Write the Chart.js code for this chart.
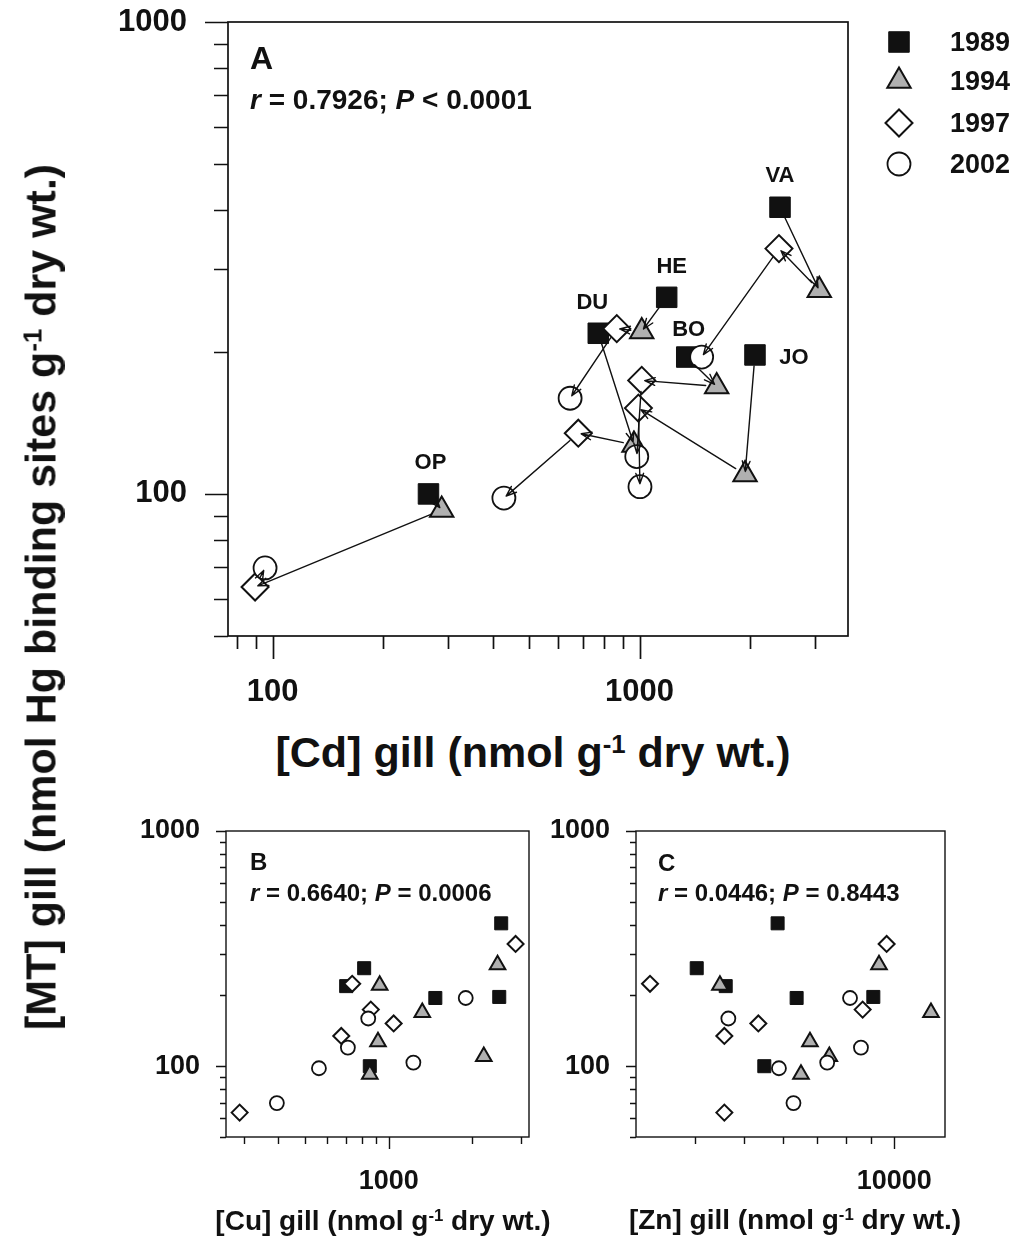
<!DOCTYPE html>
<html>
<head>
<meta charset="utf-8">
<script src="https://cdn.jsdelivr.net/npm/chart.js@4.4.1/dist/chart.umd.min.js"></script>
<style>
  html, body { margin: 0; padding: 0; background: #fff; }
  #page {
    position: relative; width: 1019px; height: 1243px; overflow: hidden;
    font-family: "Liberation Sans", Arial, sans-serif; font-weight: bold; color: #111;
  }
  canvas { position: absolute; }
  .t { position: absolute; white-space: nowrap; line-height: 1; }
  .c { transform: translate(-50%, -50%); }
  .l { transform: translate(0, -50%); }
  sup { font-size: 0.6em; position: relative; top: -0.55em; vertical-align: baseline; line-height: 0; }
</style>
</head>
<body>
<div id="page">
  <canvas id="chartA" width="1019" height="720" style="left:0;top:0;width:1019px;height:720px"></canvas>
  <canvas id="chartB" width="450" height="410" style="left:90px;top:800px;width:450px;height:410px"></canvas>
  <canvas id="chartC" width="470" height="410" style="left:540px;top:800px;width:470px;height:410px"></canvas>

  <div class="t l" style="left:250px;top:58px;font-size:32px">A</div>
  <div class="t l" style="left:250px;top:100px;font-size:28px"><i>r</i> = 0.7926; <i>P</i> &lt; 0.0001</div>

  <div class="t l" style="left:950px;top:42px;font-size:27px">1989</div>
  <div class="t l" style="left:950px;top:81px;font-size:27px">1994</div>
  <div class="t l" style="left:950px;top:123px;font-size:27px">1997</div>
  <div class="t l" style="left:950px;top:164px;font-size:27px">2002</div>

  <div class="t" style="left:41px;top:597px;font-size:43px;transform:translate(-50%,-50%) rotate(-90deg)">[MT] gill (nmol Hg binding sites g<sup>-1</sup> dry wt.)</div>
  <div class="t c" style="left:533px;top:752px;font-size:43px">[Cd] gill (nmol g<sup>-1</sup> dry wt.)</div>

  <div class="t l" style="left:250px;top:862px;font-size:24px">B</div>
  <div class="t l" style="left:250px;top:893px;font-size:24px"><i>r</i> = 0.6640; <i>P</i> = 0.0006</div>
  <div class="t l" style="left:658px;top:863px;font-size:24px">C</div>
  <div class="t l" style="left:658px;top:893px;font-size:24px"><i>r</i> = 0.0446; <i>P</i> = 0.8443</div>

  <div class="t c" style="left:383px;top:1221px;font-size:28px">[Cu] gill (nmol g<sup>-1</sup> dry wt.)</div>
  <div class="t c" style="left:795px;top:1220px;font-size:28px">[Zn] gill (nmol g<sup>-1</sup> dry wt.)</div>
</div>
<script>
// sites and sampling years
const sites = ["OP", "DU", "HE", "BO", "JO", "VA"];
const years = ["1989", "1994", "1997", "2002"];

// [MT] gill, nmol Hg binding sites / g dry wt (same for all panels)
const mt1989 = [100, 219, 261, 195, 197, 405];
const mt1994 = [92.5, 127, 221, 169, 110, 270];
const mt1997 = [63.5, 134.5, 224, 174, 152, 331];
const mt2002 = [69.7, 98, 159.5, 120, 103.6, 195];

// [Cd] gill (panel A)
const cd1989 = [266, 772, 1186, 1345, 2064, 2415];
const cd1994 = [289, 966, 1014, 1623, 1939, 3090];
const cd1997 = [89.6, 681, 867, 1014, 993, 2399];
const cd2002 = [95.4, 427, 647, 983, 1003, 1477];

// [Cu] gill (panel B)
const cu1989 = [854, 702, 815, 1471, 2500, 2541];
const cu1994 = [854, 914, 927, 1320, 2199, 2465];
const cu1997 = [290, 674, 738, 861, 1041, 2863];
const cu2002 = [395, 560, 843, 712, 1226, 1893];

// [Zn] gill (panel C)
const zn1989 = [5495, 4600, 4025, 6377, 9079, 5842];
const zn1994 = [6506, 6781, 4479, 11840, 7413, 9319];
const zn1997 = [4571, 4571, 3246, 8643, 5346, 9653];
const zn2002 = [6285, 5878, 4656, 8576, 7341, 8155];

// labelled ticks
const ticksAx = [100, 1000];
const ticksBx = [1000];
const ticksCx = [10000];
const ticksY = [100, 1000];

const mtByYear = [mt1989, mt1994, mt1997, mt2002];

// marker look per year
const yearStyle = {
  "1989": { shape: "rect", fill: "#111", line: "#111", width: 1 },
  "1994": { shape: "triangle", fill: "#b0b0b0", line: "#111", width: 2 },
  "1997": { shape: "rectRot", fill: "#fff", line: "#111", width: 2 },
  "2002": { shape: "circle", fill: "#fff", line: "#111", width: 1.8 },
};
const bigRadius = { "1989": 14.5, "1994": 13.5, "1997": 13.5, "2002": 11.5 };
const smallRadius = { "1989": 9.2, "1994": 9, "1997": 8, "2002": 7 };

Chart.defaults.font.family = '"Liberation Sans", Arial, sans-serif';
Chart.defaults.font.weight = "bold";
Chart.defaults.color = "#111";

function mantissa(v) {
  const e = Math.floor(Math.log10(v) + 1e-9);
  const m = v / Math.pow(10, e);
  const r = Math.round(m);
  return Math.abs(m - r) < 1e-6 ? r : null;
}

function tickLabel(list) {
  return (v) => {
    const r = Math.round(v);
    return list.includes(r) && Math.abs(v - r) < 1e-6 ? String(r) : "";
  };
}

function marker(ctx, shape, x, y, r) {
  ctx.beginPath();
  if (shape === "rect") {
    const s = r * Math.SQRT1_2;
    ctx.rect(x - s, y - s, 2 * s, 2 * s);
  } else if (shape === "rectRot") {
    ctx.moveTo(x - r, y); ctx.lineTo(x, y - r); ctx.lineTo(x + r, y); ctx.lineTo(x, y + r);
    ctx.closePath();
  } else if (shape === "triangle") {
    ctx.moveTo(x, y - r);
    ctx.lineTo(x + 0.866 * r, y + 0.5 * r);
    ctx.lineTo(x - 0.866 * r, y + 0.5 * r);
    ctx.closePath();
  } else {
    ctx.arc(x, y, r, 0, Math.PI * 2);
  }
}

// box + outside tick marks, and optional legend symbols
const frameTicks = {
  id: "frameTicks",
  afterDraw(chart, args, o) {
    const { ctx, chartArea: ca } = chart;
    const xs = chart.scales.x;
    const ys = chart.scales.y;
    ctx.save();
    ctx.strokeStyle = "#111";
    ctx.lineWidth = o.lineWidth;
    ctx.strokeRect(ca.left, ca.top, ca.right - ca.left, ca.bottom - ca.top);
    ctx.beginPath();
    xs.ticks.forEach((t) => {
      const m = mantissa(t.value);
      if (m === null) return;
      const px = Math.round(xs.getPixelForValue(t.value)) + 0.5;
      ctx.moveTo(px, ca.bottom);
      ctx.lineTo(px, ca.bottom + (m === 1 ? o.xMajor : o.xMinor));
    });
    ys.ticks.forEach((t) => {
      const m = mantissa(t.value);
      if (m === null) return;
      const py = Math.round(ys.getPixelForValue(t.value)) + 0.5;
      ctx.moveTo(ca.left, py);
      ctx.lineTo(ca.left - (m === 1 ? o.yMajor : o.yMinor), py);
    });
    ctx.stroke();

    if (o.legend) {
      years.forEach((yr, k) => {
        const st = yearStyle[yr];
        marker(ctx, st.shape, o.legend.x, o.legend.rows[k], bigRadius[yr]);
        ctx.fillStyle = st.fill;
        ctx.fill();
        ctx.lineWidth = st.width;
        ctx.strokeStyle = st.line;
        ctx.stroke();
      });
    }
    ctx.restore();
  },
};

// arrows joining each site's years in panel A
const siteArrows = {
  id: "siteArrows",
  afterDatasetsDraw(chart, args, o) {
    if (!o.enabled) return;
    const ctx = chart.ctx;
    ctx.save();
    ctx.strokeStyle = "#111";
    ctx.lineWidth = 1.4;
    ctx.lineCap = "round";
    sites.forEach((s, j) => {
      for (let k = 0; k < years.length - 1; k++) {
        const a = chart.getDatasetMeta(k).data[j];
        const b = chart.getDatasetMeta(k + 1).data[j];
        const dx = b.x - a.x, dy = b.y - a.y;
        const len = Math.hypot(dx, dy);
        if (len < 1) continue;
        const ux = dx / len, uy = dy / len;
        const sx = a.x + ux * o.startGap, sy = a.y + uy * o.startGap;
        const ex = b.x - ux * o.endGap, ey = b.y - uy * o.endGap;
        ctx.beginPath();
        ctx.moveTo(sx, sy);
        ctx.lineTo(ex, ey);
        const ang = Math.atan2(uy, ux);
        for (const sgn of [-1, 1]) {
          const t = ang + Math.PI + sgn * 0.36;
          ctx.moveTo(ex, ey);
          ctx.lineTo(ex + Math.cos(t) * 11, ey + Math.sin(t) * 11);
        }
        ctx.stroke();
      }
    });
    ctx.restore();
  },
};

function makeChart(id, xByYear, radius, cfg) {
  const datasets = years.map((yr, k) => ({
    label: yr,
    data: sites.map((s, j) => ({ x: xByYear[k][j], y: mtByYear[k][j] })),
    pointStyle: yearStyle[yr].shape,
    pointRadius: radius[yr],
    pointHoverRadius: radius[yr],
    pointBackgroundColor: yearStyle[yr].fill,
    pointBorderColor: yearStyle[yr].line,
    pointBorderWidth: yearStyle[yr].width,
    showLine: false,
    order: years.length - k,
  }));
  return new Chart(document.getElementById(id), {
    type: "scatter",
    data: { datasets },
    plugins: [siteArrows, frameTicks],
    options: {
      responsive: false,
      animation: false,
      devicePixelRatio: 1,
      events: [],
      clip: false,
      layout: { padding: { top: cfg.top, right: cfg.right, left: 0, bottom: 0 } },
      plugins: {
        legend: { display: false },
        tooltip: { enabled: false },
        siteArrows: { enabled: !!cfg.arrows, startGap: 11, endGap: 3 },
        frameTicks: cfg.frame,
      },
      scales: {
        x: {
          type: "logarithmic",
          position: "bottom",
          min: cfg.xMin,
          max: cfg.xMax,
          grid: { display: false, drawTicks: false },
          border: { display: false },
          ticks: {
            autoSkip: false, maxRotation: 0, padding: cfg.xPad,
            font: { size: cfg.tickSize, weight: "bold" }, color: "#111",
            callback: tickLabel(cfg.xLabels),
          },
          afterFit: (s) => { s.height = cfg.xHeight; s.paddingLeft = 0; s.paddingRight = 0; },
        },
        y: {
          type: "logarithmic",
          position: "left",
          min: 50,
          max: 1000,
          grid: { display: false, drawTicks: false },
          border: { display: false },
          ticks: {
            autoSkip: false, padding: cfg.yPad,
            font: { size: cfg.tickSize, weight: "bold" }, color: "#111",
            callback: tickLabel(ticksY),
          },
          afterFit: (s) => { s.width = cfg.yWidth; s.paddingTop = 0; s.paddingBottom = 0; },
        },
      },
    },
  });
}

const chartA = makeChart("chartA", [cd1989, cd1994, cd1997, cd2002], bigRadius, {
  top: 22, right: 1019 - 848, xHeight: 720 - 636, yWidth: 228,
  xMin: 75.6, xMax: 3700, xLabels: ticksAx, tickSize: 31, xPad: 38, yPad: 41,
  arrows: true,
  frame: {
    lineWidth: 1.7, xMajor: 23, xMinor: 13, yMajor: 23, yMinor: 14,
    legend: { x: 899, rows: [42, 81, 123, 164] },
  },
});

makeChart("chartB", [cu1989, cu1994, cu1997, cu2002], smallRadius, {
  top: 31, right: 450 - 444.3, xHeight: 410 - 337, yWidth: 136,
  xMin: 259, xMax: 3200, xLabels: ticksBx, tickSize: 27, xPad: 28, yPad: 26,
  frame: { lineWidth: 1.4, xMajor: 12, xMinor: 7, yMajor: 10, yMinor: 6 },
});

makeChart("chartC", [zn1989, zn1994, zn1997, zn2002], smallRadius, {
  top: 31, right: 470 - 405, xHeight: 410 - 337, yWidth: 96,
  xMin: 3043, xMax: 12630, xLabels: ticksCx, tickSize: 27, xPad: 28, yPad: 26,
  frame: { lineWidth: 1.4, xMajor: 12, xMinor: 7, yMajor: 10, yMinor: 6 },
});

// site names next to the 1989 markers of panel A
const siteLabelOffset = { OP: [2, -32], DU: [-6, -31], HE: [5, -31], BO: [2, -28], JO: [39, 2], VA: [0, -32] };
const page = document.getElementById("page");
const meta1989 = chartA.getDatasetMeta(0).data;
sites.forEach((s, j) => {
  const el = document.createElement("div");
  el.className = "t c";
  el.style.fontSize = "22px";
  el.style.left = (meta1989[j].x + siteLabelOffset[s][0]) + "px";
  el.style.top = (meta1989[j].y + siteLabelOffset[s][1]) + "px";
  el.textContent = s;
  page.appendChild(el);
});
</script>
</body>
</html>
